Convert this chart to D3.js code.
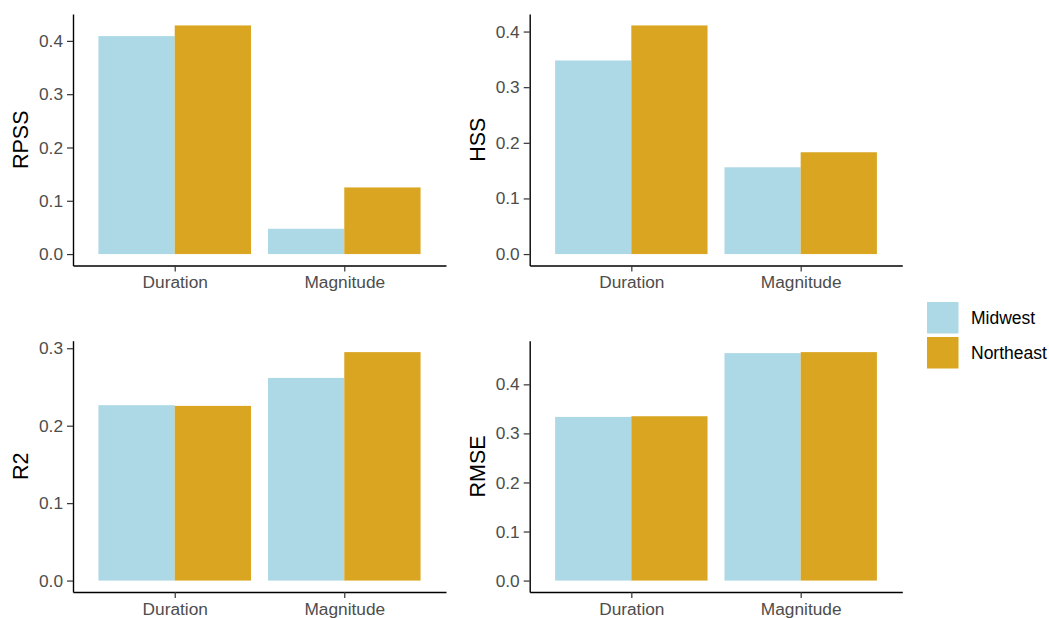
<!DOCTYPE html>
<html lang="en">
<head>
    <meta charset="UTF-8">
    <title>Skill scores</title>
    <script src="https://d3js.org/d3.v7.min.js"></script>
    <style>
        body { margin: 0; background: #fff; }
        svg text { font-family: "Liberation Sans", Arial, sans-serif; }
    </style>
</head>
<body>
<svg width="1049" height="618"></svg>
<script>
    // data
    const categories = ["Duration", "Magnitude"];
    const regions = ["Midwest", "Northeast"];
    const regionColors = ["#ADD8E6", "#DAA520"];

    const rpssMidwest = [0.409, 0.0475];
    const rpssNortheast = [0.429, 0.125];
    const hssMidwest = [0.348, 0.156];
    const hssNortheast = [0.411, 0.183];
    const r2Midwest = [0.2265, 0.2617];
    const r2Northeast = [0.2256, 0.2950];
    const rmseMidwest = [0.3336, 0.4637];
    const rmseNortheast = [0.335, 0.4657];

    const ticks04 = [0, 0.1, 0.2, 0.3, 0.4];
    const ticks03 = [0, 0.1, 0.2, 0.3];

    // panel boxes (pixel layout)
    const panels = [
        {title: "RPSS", mw: rpssMidwest, ne: rpssNortheast, ticks: ticks04, x0: 73, x1: 446, y0: 14, y1: 265.5, titleX: 20},
        {title: "HSS", mw: hssMidwest, ne: hssNortheast, ticks: ticks04, x0: 529.7, x1: 902.3, y0: 14, y1: 265.5, titleX: 477},
        {title: "R2", mw: r2Midwest, ne: r2Northeast, ticks: ticks03, x0: 73, x1: 446, y0: 340.7, y1: 592, titleX: 20},
        {title: "RMSE", mw: rmseMidwest, ne: rmseNortheast, ticks: ticks04, x0: 529.7, x1: 902.3, y0: 340.7, y1: 592, titleX: 477}
    ];

    const svg = d3.select("svg");

    panels.forEach(p => {
        const g = svg.append("g");

        const maxVal = d3.max(p.mw.concat(p.ne));
        const y = d3.scaleLinear()
            .domain([-0.05 * maxVal, 1.05 * maxVal])
            .range([p.y1, p.y0]);

        // ggplot-like discrete expansion: 0.6 units each side
        const x = d3.scalePoint()
            .domain(categories)
            .range([p.x0, p.x1])
            .padding(0.6);
        const step = x.step();
        const xInner = d3.scaleBand()
            .domain(regions)
            .range([-0.45 * step, 0.45 * step]);

        const rows = [];
        categories.forEach((c, i) => {
            rows.push({cat: c, region: regions[0], value: p.mw[i]});
            rows.push({cat: c, region: regions[1], value: p.ne[i]});
        });

        g.selectAll("rect.bar")
            .data(rows)
            .join("rect")
            .attr("class", "bar")
            .attr("x", d => x(d.cat) + xInner(d.region))
            .attr("width", xInner.bandwidth())
            .attr("y", d => y(d.value))
            .attr("height", d => y(0) - y(d.value))
            .attr("fill", d => regionColors[regions.indexOf(d.region)]);

        // y axis
        const yAxis = g.append("g")
            .attr("transform", `translate(${p.x0},0)`)
            .call(d3.axisLeft(y).tickValues(p.ticks).tickFormat(d3.format(".1f"))
                .tickSize(6).tickSizeOuter(0).tickPadding(4));
        // x axis
        const xAxis = g.append("g")
            .attr("transform", `translate(0,${p.y1})`)
            .call(d3.axisBottom(x).tickSize(6).tickSizeOuter(0).tickPadding(4.5));

        [yAxis, xAxis].forEach(ax => {
            ax.select(".domain").attr("stroke", "#000").attr("stroke-width", 1.4);
            ax.selectAll(".tick line").attr("stroke", "#333").attr("stroke-width", 1.2);
            ax.selectAll(".tick text")
                .attr("fill", "#4D4D4D")
                .style("font-size", "17.3px")
                .style("font-family", "'Liberation Sans', Arial, sans-serif");
        });

        // axis title
        g.append("text")
            .attr("transform", `translate(${p.titleX},${(p.y0 + p.y1) / 2}) rotate(-90)`)
            .attr("text-anchor", "middle")
            .attr("dy", "0.36em")
            .style("font-size", "21.5px")
            .attr("fill", "#000")
            .text(p.title);
    });

    // legend
    const legend = svg.append("g").attr("transform", "translate(927,302)");
    regions.forEach((r, i) => {
        legend.append("rect")
            .attr("x", 0)
            .attr("y", i * 35)
            .attr("width", 31.5)
            .attr("height", 31.5)
            .attr("fill", regionColors[i]);
        legend.append("text")
            .attr("x", 44)
            .attr("y", i * 35 + 16)
            .attr("dy", "0.35em")
            .style("font-size", "17.5px")
            .attr("fill", "#000")
            .text(r);
    });
</script>
</body>
</html>
